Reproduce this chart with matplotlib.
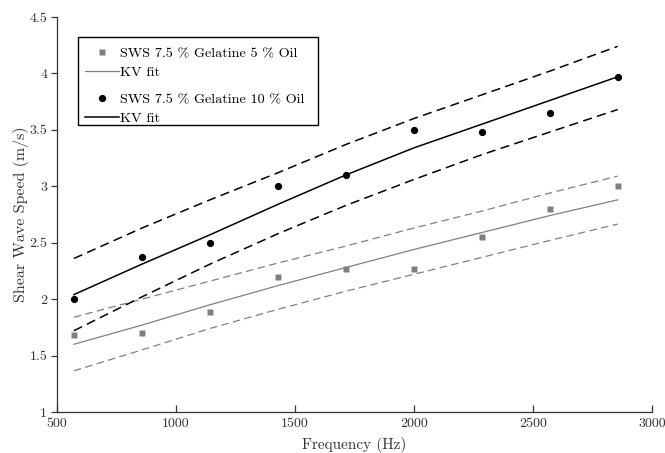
import matplotlib.pyplot as plt
from matplotlib.patches import Rectangle
from matplotlib.lines import Line2D

plt.rcParams['font.family'] = 'cmr10'
plt.rcParams['mathtext.fontset'] = 'cm'
plt.rcParams['axes.formatter.use_mathtext'] = True

freq = [571, 857, 1143, 1429, 1714, 2000, 2286, 2571, 2857]

# 5 % oil
sws_5 = [1.68, 1.70, 1.89, 2.20, 2.27, 2.27, 2.55, 2.80, 3.00]
fit_5 = [1.60, 1.77, 1.95, 2.12, 2.28, 2.44, 2.59, 2.74, 2.88]
fit_5_hi = [1.84, 2.00, 2.16, 2.32, 2.47, 2.63, 2.78, 2.94, 3.09]
fit_5_lo = [1.365, 1.55, 1.74, 1.91, 2.07, 2.22, 2.37, 2.52, 2.665]

# 10 % oil
sws_10 = [2.00, 2.37, 2.50, 3.00, 3.10, 3.50, 3.48, 3.65, 3.97]
fit_10 = [2.04, 2.31, 2.57, 2.84, 3.10, 3.34, 3.55, 3.76, 3.97]
fit_10_hi = [2.36, 2.63, 2.88, 3.12, 3.37, 3.60, 3.81, 4.02, 4.24]
fit_10_lo = [1.72, 2.02, 2.31, 2.58, 2.83, 3.06, 3.28, 3.48, 3.68]

gray = '#808080'
dash = (6, 3.5)

fig = plt.figure(figsize=(6.65, 4.53), dpi=100)
ax = fig.add_axes([0.0857, 0.0905, 0.8943, 0.872])

ax.plot(freq, fit_5, color=gray, lw=0.9)
ax.plot(freq, fit_5_hi, color=gray, lw=0.9, dashes=dash)
ax.plot(freq, fit_5_lo, color=gray, lw=0.9, dashes=dash)
ax.plot(freq, sws_5, 's', color=gray, ms=3.7, mec='none')

ax.plot(freq, fit_10, color='black', lw=1.1)
ax.plot(freq, fit_10_hi, color='black', lw=1.1, dashes=dash)
ax.plot(freq, fit_10_lo, color='black', lw=1.1, dashes=dash)
ax.plot(freq, sws_10, 'o', color='black', ms=4.2)

ax.set_xlim(500, 3000)
ax.set_ylim(1, 4.5)
ax.set_xticks([500, 1000, 1500, 2000, 2500, 3000])
ax.set_yticks([1, 1.5, 2, 2.5, 3, 3.5, 4, 4.5])
ax.set_yticklabels(['1', '1.5', '2', '2.5', '3', '3.5', '4', '4.5'])
ax.set_xticklabels(['500', '1000', '1500', '2000', '2500', '3000'])

for s in ['top', 'right']:
    ax.spines[s].set_visible(False)
for s in ['left', 'bottom']:
    ax.spines[s].set_color('#333333')
    ax.spines[s].set_linewidth(0.9)
ax.tick_params(axis='x', direction='in', length=5, width=0.9, color='#333333',
               labelsize=10, labelcolor='#333333', pad=4)
ax.tick_params(axis='y', direction='out', length=4, width=0.9, color='#333333',
               labelsize=10, labelcolor='#333333', pad=3)

ax.set_xlabel('Frequency (Hz)', fontsize=11, color='#333333', labelpad=5)
ax.set_ylabel('Shear Wave Speed (m/s)', fontsize=11.5, color='#333333', labelpad=0.5)

# legend box drawn by hand, two groups inside
ax.add_patch(Rectangle((0.0345, 0.7266), 0.405, 0.2224, transform=ax.transAxes,
                       facecolor='white', edgecolor='black', lw=1.0, zorder=5))

h1 = [Line2D([], [], ls='none', marker='s', color=gray, ms=3.7, mec='none'),
      Line2D([], [], color=gray, lw=0.9)]
h2 = [Line2D([], [], ls='none', marker='o', color='black', ms=4.2),
      Line2D([], [], color='black', lw=1.1)]
kw = dict(frameon=False, fontsize=10.2, handlelength=2.4, handletextpad=0.1,
          labelspacing=0.42, borderpad=0, borderaxespad=0, loc='center left')
leg1 = ax.legend(h1, ['SWS 7.5 % Gelatine 5 % Oil', 'KV fit'],
                 bbox_to_anchor=(0.047, 0.883), **kw)
leg1.set_zorder(6)
ax.add_artist(leg1)
leg2 = ax.legend(h2, ['SWS 7.5 % Gelatine 10 % Oil', 'KV fit'],
                 bbox_to_anchor=(0.047, 0.767), **kw)
leg2.set_zorder(6)

fig.savefig('out.png', dpi=100)
